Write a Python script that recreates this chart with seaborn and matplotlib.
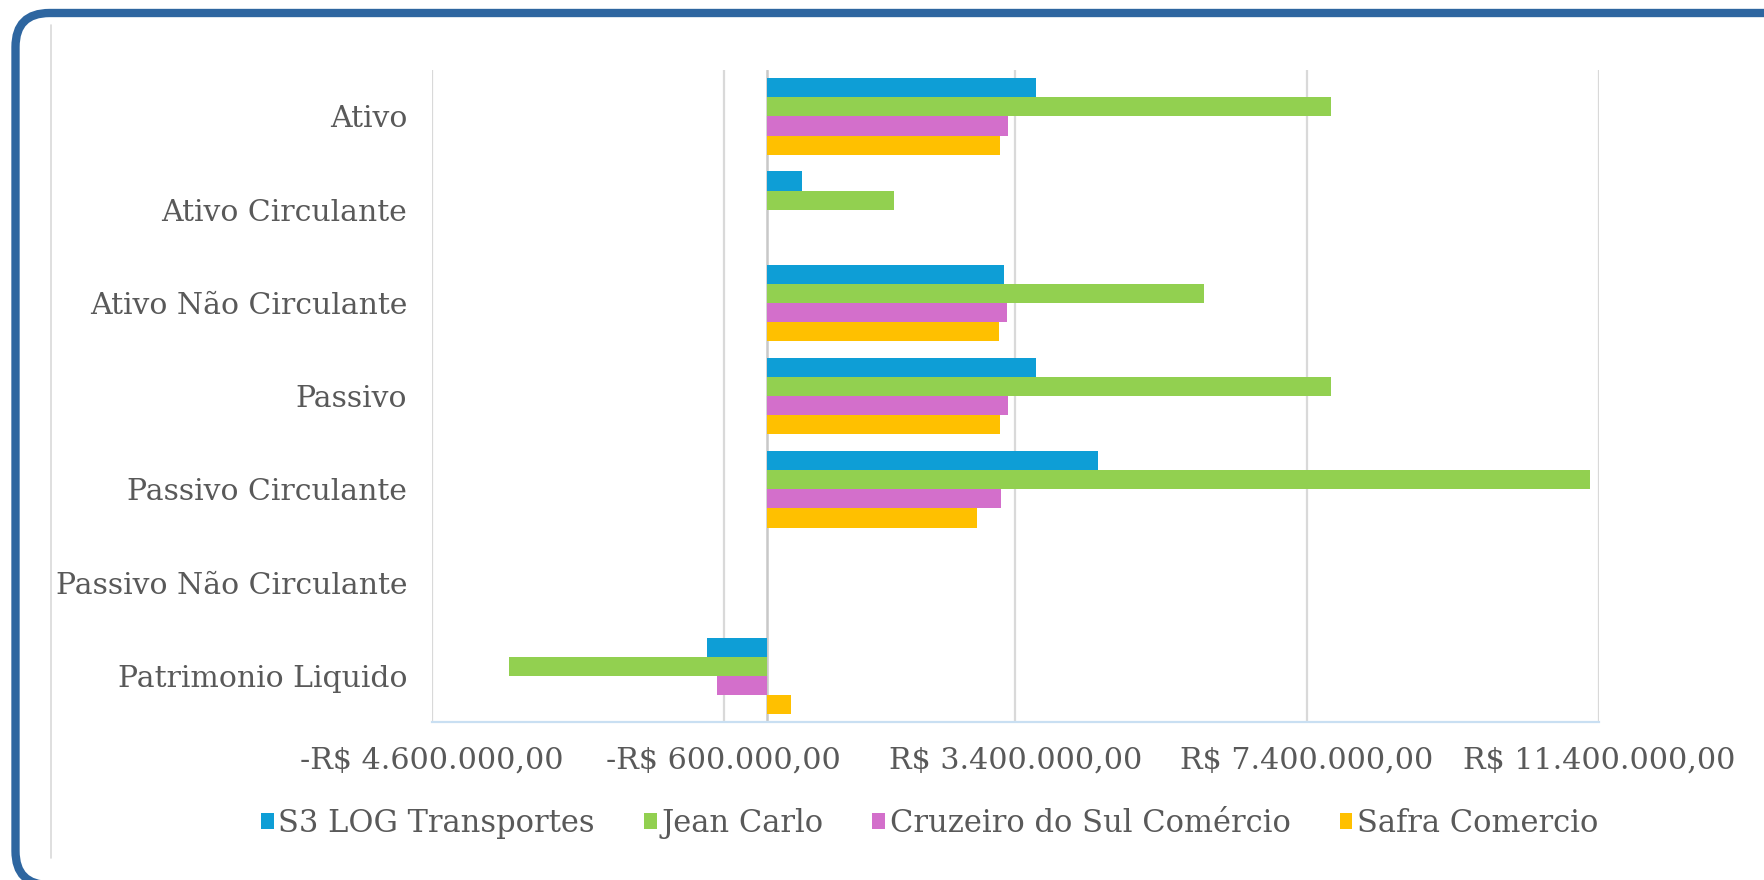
import matplotlib
matplotlib.use('Agg')
import matplotlib.pyplot as plt
from matplotlib.patches import FancyBboxPatch, Patch
import seaborn as sns
import pandas as pd

# ---------------- data ----------------
categories = ["Ativo", "Ativo Circulante", "Ativo Não Circulante", "Passivo",
              "Passivo Circulante", "Passivo Não Circulante", "Patrimonio Liquido"]
companies = ["S3 LOG Transportes", "Jean Carlo", "Cruzeiro do Sul Comércio", "Safra Comercio"]
s3_log = [3680000, 480000, 3240000, 3680000, 4530000, 0, -830000]
jean_carlo = [7730000, 1740000, 5990000, 7730000, 11280000, 0, -3540000]
cruzeiro = [3300000, 0, 3280000, 3300000, 3200000, 0, -690000]
safra = [3190000, 0, 3170000, 3190000, 2870000, 0, 320000]
colors = ["#0E9ED6", "#92D050", "#D36FCB", "#FFC000"]
tick_values = [-4600000, -600000, 3400000, 7400000, 11400000]
tick_labels = ["-R$ 4.600.000,00", "-R$ 600.000,00", "R$ 3.400.000,00",
               "R$ 7.400.000,00", "R$ 11.400.000,00"]

rows = []
for comp, vals in zip(companies, [s3_log, jean_carlo, cruzeiro, safra]):
    for cat, v in zip(categories, vals):
        rows.append({"categoria": cat, "empresa": comp, "valor": v})
df = pd.DataFrame(rows)

# ---------------- style ----------------
sns.set_theme(style="white")
plt.rcParams['font.family'] = ['DejaVu Serif']
text_color = "#595959"

W, H = 1764, 880
fig = plt.figure(figsize=(W / 100, H / 100), dpi=100)
fig.patch.set_facecolor("white")

# background axes in pixel units for the frame
bg = fig.add_axes([0, 0, 1, 1], zorder=-5)
bg.set_xlim(0, W)
bg.set_ylim(0, H)
bg.axis("off")
bg.add_patch(FancyBboxPatch((15.5, -5), W + 20, 872,
                            boxstyle="round,pad=0,rounding_size=34",
                            facecolor="white", edgecolor="#2E66A0",
                            linewidth=6, clip_on=False))
bg.plot([51, 51], [22, 855], color="#D9D9D9", linewidth=1.2)

ax = fig.add_axes([0.2449, 0.179, 0.9063 - 0.2449, 0.9207 - 0.179])
ax.patch.set_alpha(0)
sns.barplot(data=df, y="categoria", x="valor", hue="empresa", orient="h",
            order=categories, hue_order=companies, palette=colors,
            width=0.82, saturation=1, ax=ax, legend=False, errorbar=None,
            linewidth=0, edgecolor="none")

ax.set_xlim(tick_values[0], tick_values[-1])
ax.set_ylim(len(categories) - 0.5, -0.5)
ax.set_xticks(tick_values)
ax.set_xticklabels(tick_labels)
ax.set_xlabel("")
ax.set_ylabel("")
ax.tick_params(axis="x", length=0, pad=17, labelsize=21.7, labelcolor=text_color)
ax.tick_params(axis="y", length=0, pad=18, labelsize=21.5, labelcolor=text_color)

ax.grid(axis="x", color="#D9D9D9", linewidth=1.6)
ax.set_axisbelow(True)
for s in ["top", "right", "left"]:
    ax.spines[s].set_visible(False)
ax.spines["bottom"].set_color("#C9DFF2")
ax.spines["bottom"].set_linewidth(1.6)
ax.axvline(0, color="#C8C8C8", linewidth=1.8, zorder=0.5)

# legend
handles = [Patch(facecolor=c, edgecolor="none") for c in colors]
fig.legend(handles, companies, loc="center", bbox_to_anchor=(0.527, 0.064),
           ncol=4, frameon=False, fontsize=22, handlelength=0.42,
           handleheight=0.42, handletextpad=0.15, columnspacing=1.6,
           labelcolor=text_color)

fig.savefig("out.png", dpi=100, facecolor="white")
